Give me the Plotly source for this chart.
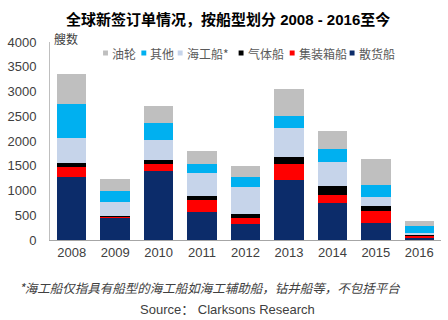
import plotly.graph_objects as go

years = ["2008", "2009", "2010", "2011", "2012", "2013", "2014", "2015", "2016"]
bulk = [1266, 455, 1400, 560, 323, 1212, 741, 337, 40]
container = [215, 10, 135, 250, 115, 317, 168, 256, 60]
gas = [81, 30, 80, 88, 80, 154, 182, 101, 20]
offshore = [492, 280, 405, 450, 545, 573, 491, 168, 25]
other = [686, 215, 337, 190, 215, 256, 256, 249, 142]
tanker = [614, 240, 357, 250, 216, 532, 364, 525, 100]

series = [
    ("散货船", bulk, "#0c2c6a"),
    ("集装箱船", container, "#ff0000"),
    ("气体船", gas, "#000000"),
    ("海工船*", offshore, "#c6d4ea"),
    ("其他", other, "#00b0f0"),
    ("油轮", tanker, "#bfbfbf"),
]
legend_order = ["油轮", "其他", "海工船*", "气体船", "集装箱船", "散货船"]
legend_x = [97, 136, 173, 235, 287, 348]

W, H = 448, 320
L, R, T, B = 43, 7, 42, 80
FONT = "Liberation Sans, Arial, Noto Sans CJK SC, sans-serif"

def px_x(p):
    return (p - L) / (W - L - R)

def px_y(p):
    return (H - B - p) / (H - T - B)

fig = go.Figure()
for name, vals, col in series:
    fig.add_trace(go.Bar(x=years, y=vals, name=name, marker=dict(color=col, line=dict(width=0)),
                         showlegend=False))

fig.update_layout(
    width=W, height=H, barmode="stack", bargap=0.32,
    margin=dict(l=L, r=R, t=T, b=B),
    paper_bgcolor="white", plot_bgcolor="white",
    font=dict(family=FONT, size=13, color="#404040"),
    xaxis=dict(showline=True, linecolor="#a6a6a6", linewidth=1, ticks="", showgrid=False,
               tickfont=dict(size=13, color="#404040")),
    yaxis=dict(range=[0, 4000], dtick=500, showline=True, linecolor="#bfbfbf", linewidth=1,
               showgrid=False, zeroline=False, ticks="", ticklabelstandoff=10,
               tickfont=dict(size=13, color="#404040")),
)

colors = {n: c for n, _, c in series}
for name, x0 in zip(legend_order, legend_x):
    y0 = 53
    fig.add_shape(type="rect", xref="paper", yref="paper",
                  x0=px_x(x0), x1=px_x(x0 + 5), y0=px_y(y0 + 2.5), y1=px_y(y0 - 2.5),
                  fillcolor=colors[name], line=dict(width=0))
    fig.add_annotation(x=px_x(x0 + 7), y=px_y(y0), xref="paper", yref="paper",
                       xanchor="left", yanchor="middle", showarrow=False, text=name,
                       font=dict(size=12, color="#595959", family="Noto Sans CJK SC"))

fig.add_annotation(x=px_x(224), y=px_y(20), xref="paper", yref="paper", showarrow=False,
                   xanchor="center", yanchor="middle",
                   text="<b>全球新签订单情况，按船型划分 2008 - 2016至今</b>",
                   font=dict(size=15, color="#000000", family="Liberation Sans, Noto Sans CJK SC"))
fig.add_annotation(x=px_x(45), y=px_y(38), xref="paper", yref="paper", showarrow=False,
                   xanchor="left", yanchor="middle", text="艘数",
                   font=dict(size=12, color="#404040", family="Noto Sans CJK SC"))
fig.add_annotation(x=px_x(9), y=px_y(287), xref="paper", yref="paper", showarrow=False,
                   xanchor="left", yanchor="middle",
                   text="<i>*海工船仅指具有船型的海工船如海工辅助船，钻井船等，不包括平台</i>",
                   font=dict(size=12.5, color="#404040", family="Noto Sans CJK SC"))
fig.add_annotation(x=px_x(224), y=px_y(309), xref="paper", yref="paper", showarrow=False,
                   xanchor="center", yanchor="middle", text="Source： Clarksons Research",
                   font=dict(size=13, color="#404040", family="Liberation Sans, Noto Sans CJK SC"))

fig.write_html("out.html")
